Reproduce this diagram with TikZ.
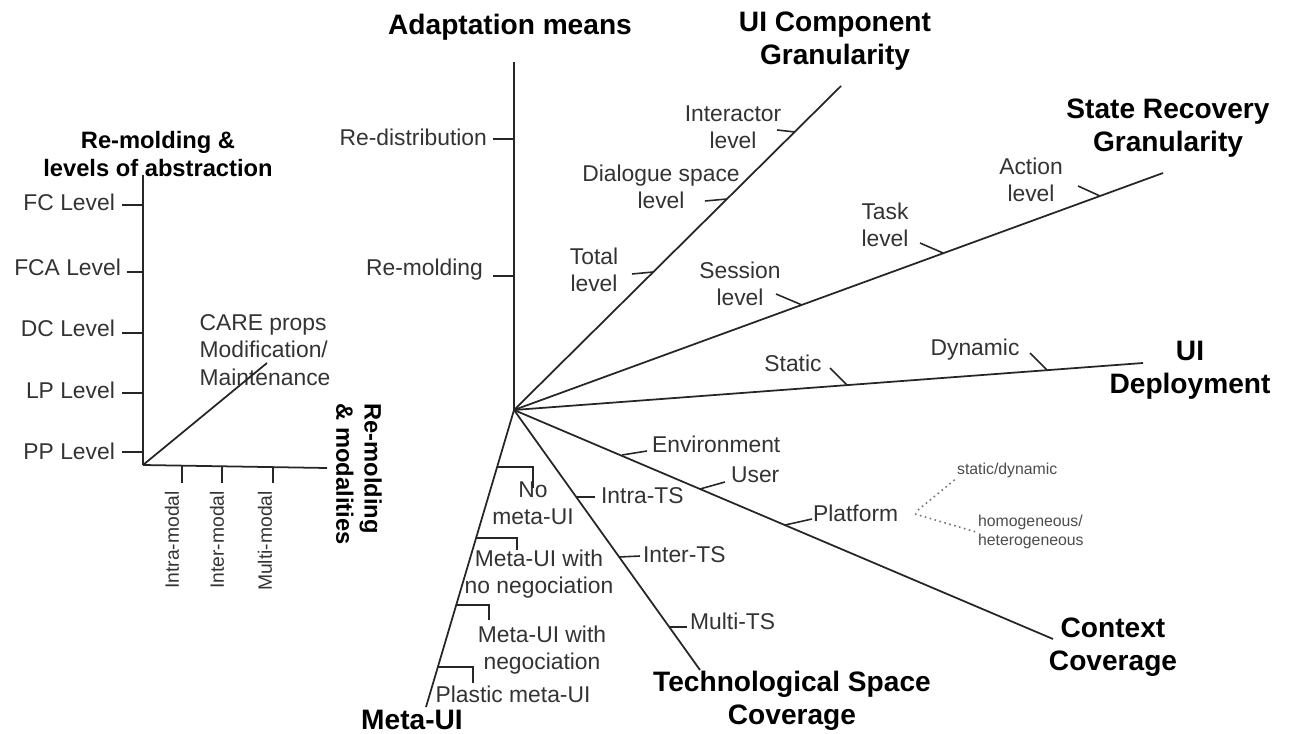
\documentclass[tikz,border=0pt]{standalone}
\usepackage{fontspec}
\setmainfont{Liberation Sans}
\usetikzlibrary{arrows}

\begin{document}
\begin{tikzpicture}[x=0.02cm,y=-0.02cm]
            \tikzstyle{edge}=[draw=black!85,line width=1pt,-]
            \tikzstyle{tick}=[draw=black!85,line width=0.9pt,-]
            \tikzstyle{hint}=[draw=black!55,dotted,line width=0.9pt]
            \tikzstyle{val}=[text=black!80,font=\fontsize{13}{15.5}\selectfont,align=center,inner sep=1pt]
            \tikzstyle{side}=[text=black!80,font=\fontsize{11}{13}\selectfont,inner sep=1pt]
            \tikzstyle{title}=[text=black,font=\fontsize{16}{18.5}\selectfont\bfseries,align=center,inner sep=1pt]
            \tikzstyle{subtitle}=[text=black,font=\fontsize{13.5}{16}\selectfont\bfseries,align=center,inner sep=1pt]
            \tikzstyle{tiny}=[text=black!70,font=\fontsize{9}{10.5}\selectfont,align=left,inner sep=1pt]

            \useasboundingbox (0,0) rectangle (1290,733);

            \coordinate (hub) at (514,410);
            \coordinate (am)  at (514,62);
            \coordinate (ui)  at (841,86);
            \coordinate (sr)  at (1163,173);
            \coordinate (dp)  at (1143,363);
            \coordinate (cc)  at (1053,639);
            \coordinate (ts)  at (700,670);
            \coordinate (mu)  at (426,707);

            \node[title] (tam) at (510,27)   {Adaptation means};
            \node[title] (tui) at (835,41)   {UI Component\\Granularity};
            \node[title] (tsr) at (1168,128) {State Recovery\\Granularity};
            \node[title] (tdp) at (1190,370) {UI\\Deployment};
            \node[title] (tcc) at (1113,647) {Context\\Coverage};
            \node[title] (tts) at (792,701)  {Technological Space\\Coverage};
            \node[title] (tmu) at (412,720)  {Meta-UI};

            \path[edge] (hub) -- (am);
            \path[edge] (hub) -- (ui);
            \path[edge] (hub) -- (sr);
            \path[edge] (hub) -- (dp);
            \path[edge] (hub) -- (cc);
            \path[edge] (hub) -- (ts);
            \path[edge] (hub) -- (mu);

            \coordinate (am1a) at (514,139); \coordinate (am1b) at (493,139);
            \coordinate (am2a) at (514,276); \coordinate (am2b) at (493,276);
            \node[val,anchor=east] (redis) at (489,137) {Re-distribution};
            \node[val,anchor=east] (remol) at (485,270) {Re-molding};
            \path[tick] (am1a) -- (am1b);
            \path[tick] (am2a) -- (am2b);

            \coordinate (ui1a) at (795,132); \coordinate (ui1b) at (777,130);
            \coordinate (ui2a) at (727,199); \coordinate (ui2b) at (705,201);
            \coordinate (ui3a) at (653,272); \coordinate (ui3b) at (632,274);
            \node[val] (inter) at (733,127) {Interactor\\level};
            \node[val] (dial)  at (661,187) {Dialogue space\\level};
            \node[val] (total) at (594,270) {Total\\level};
            \path[tick] (ui1a) -- (ui1b);
            \path[tick] (ui2a) -- (ui2b);
            \path[tick] (ui3a) -- (ui3b);

            \coordinate (sr1a) at (1100,196); \coordinate (sr1b) at (1078,186);
            \coordinate (sr2a) at (943,253);  \coordinate (sr2b) at (920,243);
            \coordinate (sr3a) at (802,305);  \coordinate (sr3b) at (776,294);
            \node[val] (action)  at (1031,180) {Action\\level};
            \node[val] (task)    at (885,225)  {Task\\level};
            \node[val] (session) at (740,284)  {Session\\level};
            \path[tick] (sr1a) -- (sr1b);
            \path[tick] (sr2a) -- (sr2b);
            \path[tick] (sr3a) -- (sr3b);

            \coordinate (dp1a) at (1047,370); \coordinate (dp1b) at (1030,353);
            \coordinate (dp2a) at (847,385);  \coordinate (dp2b) at (830,368);
            \node[val] (dyn)  at (975,350) {Dynamic};
            \node[val] (stat) at (793,363) {Static};
            \path[tick] (dp1a) -- (dp1b);
            \path[tick] (dp2a) -- (dp2b);

            \coordinate (cc1a) at (622,455); \coordinate (cc1b) at (647,451);
            \coordinate (cc2a) at (700,489); \coordinate (cc2b) at (725,482);
            \coordinate (cc3a) at (785,525); \coordinate (cc3b) at (812,519);
            \node[val,anchor=west] (env)  at (650,444) {Environment};
            \node[val,anchor=west] (user) at (729,475) {User};
            \node[val,anchor=west] (plat) at (811,513) {Platform};
            \path[tick] (cc1a) -- (cc1b);
            \path[tick] (cc2a) -- (cc2b);
            \path[tick] (cc3a) -- (cc3b);

            \coordinate (pl1) at (918,510); \coordinate (pl2) at (915,514);
            \node[tiny,anchor=west] (sd) at (955,470) {static/dynamic};
            \node[tiny,anchor=west] (hh) at (976,532) {homogeneous/\\heterogeneous};
            \path[hint] (pl1) -- (sd.south west);
            \path[hint] (pl2) -- (hh.west);

            \coordinate (ts1a) at (576,497); \coordinate (ts1b) at (595,497);
            \coordinate (ts2a) at (619,557); \coordinate (ts2b) at (640,556);
            \coordinate (ts3a) at (669,627); \coordinate (ts3b) at (687,627);
            \node[val,anchor=west] (intra) at (599,496) {Intra-TS};
            \node[val,anchor=west] (intts) at (641,555) {Inter-TS};
            \node[val,anchor=west] (multi) at (688,621) {Multi-TS};
            \path[tick] (ts1a) -- (ts1b);
            \path[tick] (ts2a) -- (ts2b);
            \path[tick] (ts3a) -- (ts3b);

            \coordinate (mu1a) at (497,467); \coordinate (mu1b) at (533,488);
            \coordinate (mu2a) at (476,538); \coordinate (mu2b) at (517,550);
            \coordinate (mu3a) at (456,605); \coordinate (mu3b) at (489,620);
            \coordinate (mu4a) at (438,667); \coordinate (mu4b) at (473,683);
            \node[val] (nometa)  at (533,503) {No\\meta-UI};
            \node[val] (metano)  at (539,574) {Meta-UI with\\no negociation};
            \node[val] (metaneg) at (542,650) {Meta-UI with\\negociation};
            \node[val] (plastic) at (513,694) {Plastic meta-UI};
            \path[tick] (mu1a) -| (mu1b);
            \path[tick] (mu2a) -| (mu2b);
            \path[tick] (mu3a) -| (mu3b);
            \path[tick] (mu4a) -| (mu4b);

            \coordinate (lo) at (143,465);
            \coordinate (lv) at (143,175);
            \coordinate (lh) at (327,468);
            \coordinate (ld) at (267,363);
            \node[subtitle] (tabs) at (158,154) {Re-molding \&\\levels of abstraction};
            \node[subtitle,rotate=-90,align=left] (tmod) at (359,474) {Re-molding\\\& modalities};
            \node[val,align=left] (care) at (265,350) {CARE props\\Modification/\\Maintenance};
            \path[edge] (lo) -- (lv);
            \path[edge] (lo) -- (lh);
            \path[edge] (lo) -- (ld);

            \coordinate (l1a) at (143,205); \coordinate (l1b) at (122,205);
            \coordinate (l2a) at (143,272); \coordinate (l2b) at (127,272);
            \coordinate (l3a) at (143,333); \coordinate (l3b) at (122,333);
            \coordinate (l4a) at (143,393); \coordinate (l4b) at (122,393);
            \coordinate (l5a) at (143,452); \coordinate (l5b) at (122,452);
            \node[val,anchor=east] (fc)  at (117,202) {FC Level};
            \node[val,anchor=east] (fca) at (123,267) {FCA Level};
            \node[val,anchor=east] (dc)  at (117,328) {DC Level};
            \node[val,anchor=east] (lp)  at (117,390) {LP Level};
            \node[val,anchor=east] (pp)  at (117,451) {PP Level};
            \path[tick] (l1a) -- (l1b);
            \path[tick] (l2a) -- (l2b);
            \path[tick] (l3a) -- (l3b);
            \path[tick] (l4a) -- (l4b);
            \path[tick] (l5a) -- (l5b);

            \coordinate (m1a) at (182,466); \coordinate (m1b) at (182,483);
            \coordinate (m2a) at (222,466); \coordinate (m2b) at (222,483);
            \coordinate (m3a) at (273,467); \coordinate (m3b) at (273,483);
            \node[side,rotate=90,anchor=east] (intram) at (172,489) {Intra-modal};
            \node[side,rotate=90,anchor=east] (interm) at (217,489) {Inter-modal};
            \node[side,rotate=90,anchor=east] (multim) at (265,489) {Multi-modal};
            \path[tick] (m1a) -- (m1b);
            \path[tick] (m2a) -- (m2b);
            \path[tick] (m3a) -- (m3b);
        \end{tikzpicture}
\end{document}
